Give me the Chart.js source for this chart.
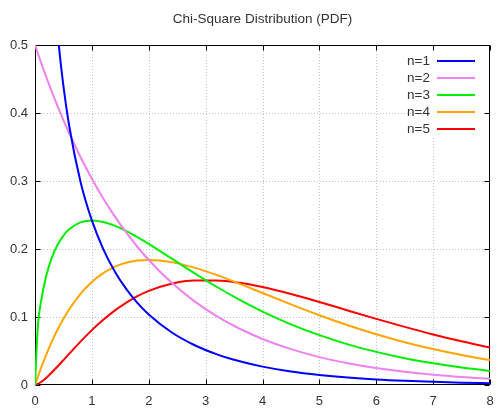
<!DOCTYPE html>
<html>
<head>
<meta charset="utf-8">
<script src="https://cdn.jsdelivr.net/npm/chart.js@4/dist/chart.umd.min.js"></script>
<style>
  html, body { margin: 0; padding: 0; background: #fff; }
  #wrap { width: 496px; height: 409px; }
</style>
</head>
<body>
<div id="wrap"><canvas id="c" width="496" height="409"></canvas></div>
<script>
// ---- data ----
const xs = [0, 0.05, 0.1, 0.2, 0.3, 0.4, 0.5, 0.6, 0.8, 1.0, 1.2, 1.4, 1.6, 1.8, 2.0, 2.4, 2.8, 3.2, 3.6, 4.0, 4.5, 5.0, 5.5, 6.0, 6.5, 7.0, 7.5, 8.0];
const n1 = [null, 1.740, 1.200, 0.8072, 0.6269, 0.5164, 0.4394, 0.3816, 0.2990, 0.2420, 0.1999, 0.1674, 0.1417, 0.1209, 0.1038, 0.0776, 0.0588, 0.0450, 0.0348, 0.0270, 0.0198, 0.0147, 0.0109, 0.0081, 0.0061, 0.0046, 0.0034, 0.0026];
const n2 = [0.5, 0.4877, 0.4756, 0.4524, 0.4304, 0.4094, 0.3894, 0.3704, 0.3352, 0.3033, 0.2744, 0.2483, 0.2247, 0.2033, 0.1839, 0.1506, 0.1233, 0.1010, 0.0827, 0.0677, 0.0527, 0.0410, 0.0320, 0.0249, 0.0194, 0.0151, 0.0118, 0.0092];
const n3 = [0, 0.0870, 0.1200, 0.1614, 0.1881, 0.2066, 0.2197, 0.2289, 0.2392, 0.2420, 0.2398, 0.2344, 0.2267, 0.2176, 0.2076, 0.1861, 0.1646, 0.1441, 0.1251, 0.1080, 0.0892, 0.0733, 0.0598, 0.0487, 0.0394, 0.0319, 0.0257, 0.0207];
const n4 = [0, 0.0122, 0.0238, 0.0452, 0.0646, 0.0819, 0.0974, 0.1111, 0.1341, 0.1516, 0.1646, 0.1738, 0.1797, 0.1830, 0.1839, 0.1807, 0.1726, 0.1615, 0.1488, 0.1353, 0.1186, 0.1026, 0.0879, 0.0747, 0.0630, 0.0528, 0.0441, 0.0366];
const n5 = [0, 0.0015, 0.0040, 0.0108, 0.0188, 0.0275, 0.0366, 0.0458, 0.0638, 0.0807, 0.0959, 0.1094, 0.1209, 0.1306, 0.1384, 0.1489, 0.1536, 0.1537, 0.1502, 0.1440, 0.1338, 0.1221, 0.1096, 0.0973, 0.0855, 0.0744, 0.0642, 0.0551];
const seriesLabels = ['n=1', 'n=2', 'n=3', 'n=4', 'n=5'];
const seriesValues = [n1, n2, n3, n4, n5];
const seriesColors = ['#0000ff', '#ee82ee', '#00ee00', '#ffa500', '#ff0000'];
const xTicks = [0, 1, 2, 3, 4, 5, 6, 7, 8];
const yTicks = [0, 0.1, 0.2, 0.3, 0.4, 0.5];
const titleText = 'Chi-Square Distribution (PDF)';

const FONT = 'Arial, "Liberation Sans", sans-serif';
const TEXT = '#333333';

const datasets = seriesValues.map((vals, i) => ({
  label: seriesLabels[i],
  data: xs.map((x, j) => ({ x: x, y: vals[j] })),
  borderColor: seriesColors[i],
  backgroundColor: seriesColors[i],
  borderWidth: 2,
  pointRadius: 0,
  cubicInterpolationMode: 'monotone',
  spanGaps: false,
  clip: 0,
  fill: false
}));

const frame = {
  id: 'frame',
  beforeDatasetsDraw(chart) {
    const { ctx, chartArea: a, scales } = chart;
    ctx.save();
    // dotted grid
    ctx.strokeStyle = '#c4c4c4';
    ctx.lineWidth = 1;
    ctx.setLineDash([1, 2]);
    xTicks.forEach(v => {
      const px = Math.round(scales.x.getPixelForValue(v)) + 0.5;
      if (px <= a.left + 1 || px >= a.right - 1) return;
      ctx.beginPath(); ctx.moveTo(px, a.top); ctx.lineTo(px, a.bottom); ctx.stroke();
    });
    yTicks.forEach(v => {
      const py = Math.round(scales.y.getPixelForValue(v)) + 0.5;
      if (py <= a.top + 1 || py >= a.bottom - 1) return;
      ctx.beginPath(); ctx.moveTo(a.left, py); ctx.lineTo(a.right, py); ctx.stroke();
    });
    ctx.setLineDash([]);
    // legend background box
    ctx.fillStyle = '#ffffff';
    ctx.fillRect(a.right - 70, a.top, 70, 93);
    // border
    ctx.strokeStyle = '#000000';
    ctx.lineWidth = 1;
    const L = Math.round(a.left) + 0.5, R = Math.round(a.right) - 0.5;
    const T = Math.round(a.top) + 0.5, B = Math.round(a.bottom) - 0.5;
    ctx.strokeRect(L, T, R - L, B - T);
    // inward ticks on all sides
    const tl = 5;
    ctx.beginPath();
    xTicks.forEach(v => {
      const px = Math.round(scales.x.getPixelForValue(v)) + 0.5;
      ctx.moveTo(px, B); ctx.lineTo(px, B - tl);
      ctx.moveTo(px, T); ctx.lineTo(px, T + tl);
    });
    yTicks.forEach(v => {
      const py = Math.round(scales.y.getPixelForValue(v)) + 0.5;
      ctx.moveTo(L, py); ctx.lineTo(L + tl, py);
      ctx.moveTo(R, py); ctx.lineTo(R - tl, py);
    });
    ctx.stroke();
    ctx.restore();
  },
  afterDatasetsDraw(chart) {
    const { ctx, chartArea: a } = chart;
    ctx.save();
    ctx.font = '13.5px ' + FONT;
    ctx.textAlign = 'right';
    ctx.textBaseline = 'middle';
    chart.data.datasets.forEach((ds, i) => {
      const y = a.top + 16 + i * 17;
      ctx.fillStyle = TEXT;
      ctx.fillText(ds.label, a.right - 60, y);
      ctx.strokeStyle = ds.borderColor;
      ctx.lineWidth = 2;
      ctx.beginPath();
      ctx.moveTo(a.right - 53, y);
      ctx.lineTo(a.right - 15, y);
      ctx.stroke();
    });
    ctx.restore();
  }
};

new Chart(document.getElementById('c'), {
  type: 'line',
  data: { datasets },
  options: {
    responsive: false,
    animation: false,
    devicePixelRatio: 1,
    layout: { padding: { left: 0, right: 6, top: 0, bottom: 0 } },
    plugins: {
      legend: { display: false },
      tooltip: { enabled: false },
      title: {
        display: true,
        fullSize: false,
        text: titleText,
        color: TEXT,
        font: { family: FONT, size: 13.5, weight: 'normal' },
        padding: { top: 11.4, bottom: 17.4 }
      }
    },
    scales: {
      x: {
        type: 'linear',
        min: 0, max: 8,
        afterBuildTicks(s) { s.ticks = xTicks.map(v => ({ value: v })); },
        afterFit(s) { s.height = 24; s.paddingLeft = 0; s.paddingRight = 0; },
        grid: { display: false, drawTicks: false },
        border: { display: false },
        ticks: { color: TEXT, font: { family: FONT, size: 13 }, padding: 9, maxRotation: 0, autoSkip: false }
      },
      y: {
        type: 'linear',
        min: 0, max: 0.5,
        afterBuildTicks(s) { s.ticks = yTicks.map(v => ({ value: v })); },
        afterFit(s) { s.width = 35; s.paddingTop = 0; s.paddingBottom = 0; },
        grid: { display: false, drawTicks: false },
        border: { display: false },
        ticks: { color: TEXT, font: { family: FONT, size: 13 }, padding: 7,
          callback: v => String(v) }
      }
    }
  },
  plugins: [frame]
});
</script>
</body>
</html>
